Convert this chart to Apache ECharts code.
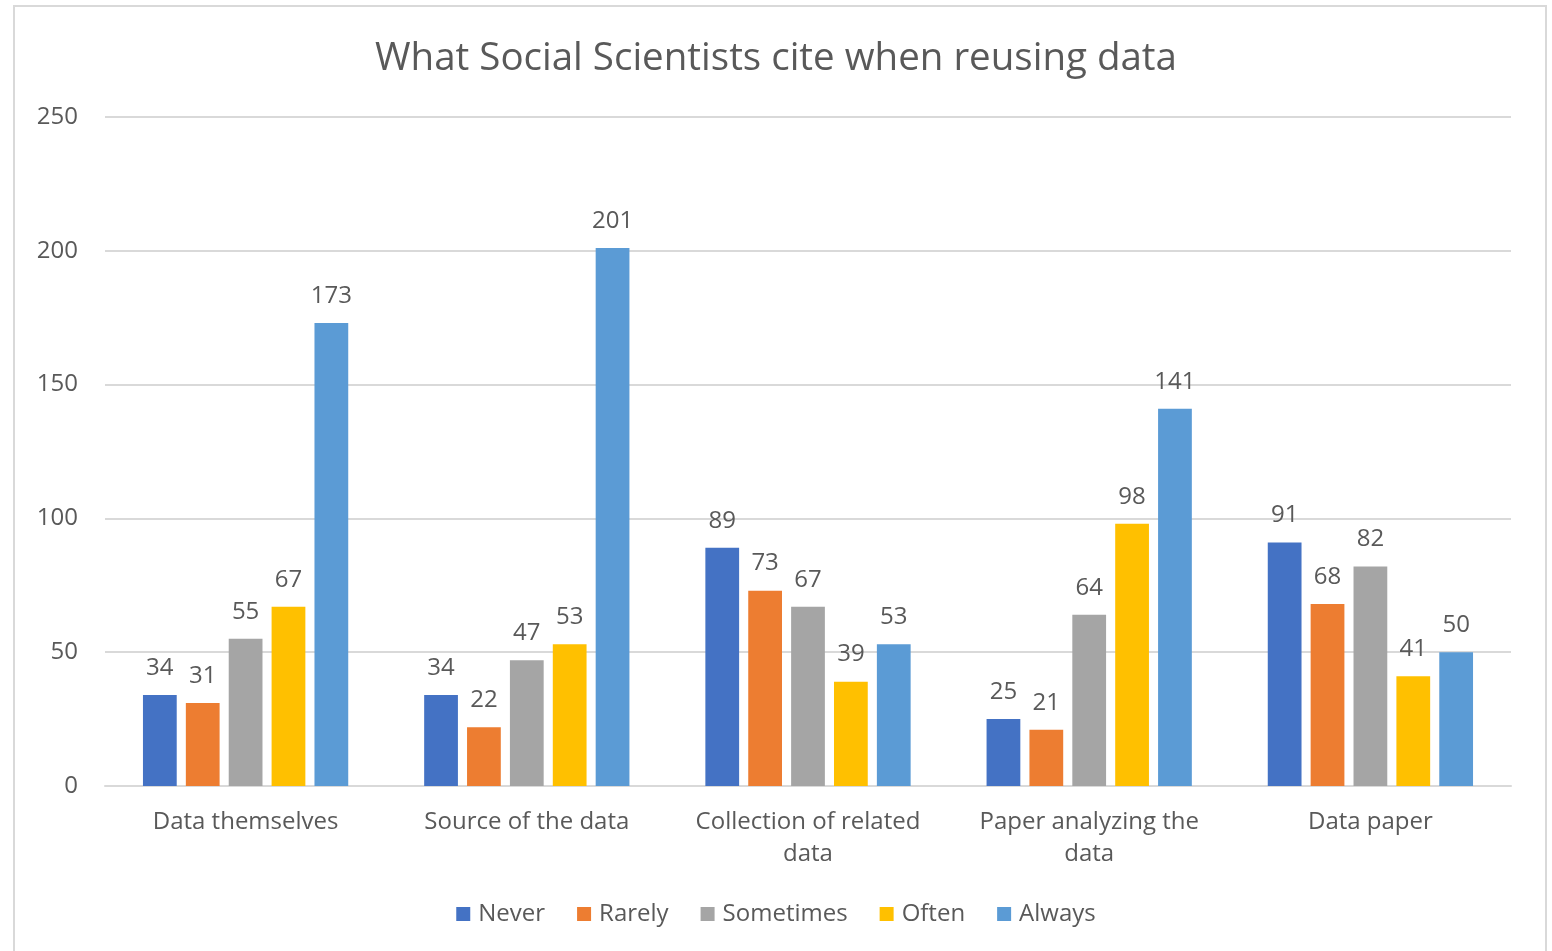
<!DOCTYPE html>
<html lang="en">
<head>
    <meta charset="UTF-8">
    <title>What Social Scientists cite when reusing data</title>
    <script src="https://cdn.jsdelivr.net/npm/echarts@6/dist/echarts.min.js"></script>
    <style>
        html, body { margin: 0; padding: 0; background: #fff; }
    </style>
</head>
<body>
<div id="main" style="width: 1552px;height:951px;"></div>

<script type="text/javascript">
    // categories and values
    var categories = ['Data themselves', 'Source of the data', 'Collection of related\ndata', 'Paper analyzing the\ndata', 'Data paper'];
    var never     = [34, 34, 89, 25, 91];
    var rarely    = [31, 22, 73, 21, 68];
    var sometimes = [55, 47, 67, 64, 82];
    var often     = [67, 53, 39, 98, 41];
    var always    = [173, 201, 53, 141, 50];
    var seriesNames = ['Never', 'Rarely', 'Sometimes', 'Often', 'Always'];
    var colors = ['#4472C4', '#ED7D31', '#A5A5A5', '#FFC000', '#5B9BD5'];

    var fontName = '"Open Sans", Lato, sans-serif';
    var textColor = '#595959';

    var myChart = echarts.init(document.getElementById('main'));

    var allData = [never, rarely, sometimes, often, always];
    var series = seriesNames.map(function (name, i) {
        return {
            name: name,
            type: 'bar',
            barGap: '27%',
            barCategoryGap: '27%',
            data: allData[i],
            itemStyle: { color: colors[i] },
            label: {
                show: true,
                position: 'top',
                distance: 15,
                color: textColor,
                fontSize: 24,
                fontFamily: fontName
            }
        };
    });

    var option = {
        animation: false,
        color: colors,
        title: {
            text: 'What Social Scientists cite when reusing data',
            left: 'center',
            top: 35,
            textStyle: {
                color: textColor,
                fontSize: 38.5,
                fontWeight: 'normal',
                fontFamily: fontName
            }
        },
        // outer chart border
        graphic: [{
            type: 'rect',
            shape: { x: 14, y: 6, width: 1532, height: 1000 },
            style: { fill: 'none', stroke: '#d9d9d9', lineWidth: 2 },
            silent: true
        }],
        legend: {
            data: seriesNames,
            bottom: 20,
            left: 'center',
            icon: 'rect',
            itemWidth: 14,
            itemHeight: 14,
            itemGap: 32,
            textStyle: {
                color: textColor,
                fontSize: 24,
                fontFamily: fontName,
                padding: [0, 0, 0, 3]
            }
        },
        grid: {
            left: 105,
            right: 41,
            top: 117,
            bottom: 165
        },
        xAxis: {
            type: 'category',
            data: categories,
            axisLine: { lineStyle: { color: '#d9d9d9', width: 2 } },
            axisTick: { show: false },
            axisLabel: {
                color: textColor,
                fontSize: 24,
                fontFamily: fontName,
                margin: 20,
                lineHeight: 32,
                interval: 0
            }
        },
        yAxis: {
            type: 'value',
            min: 0,
            max: 250,
            interval: 50,
            axisLine: { show: false },
            axisTick: { show: false },
            splitLine: { lineStyle: { color: '#d9d9d9', width: 2 } },
            axisLabel: {
                color: textColor,
                fontSize: 24,
                fontFamily: fontName,
                margin: 27
            }
        },
        series: series
    };
    myChart.setOption(option);
</script>
</body>
</html>
